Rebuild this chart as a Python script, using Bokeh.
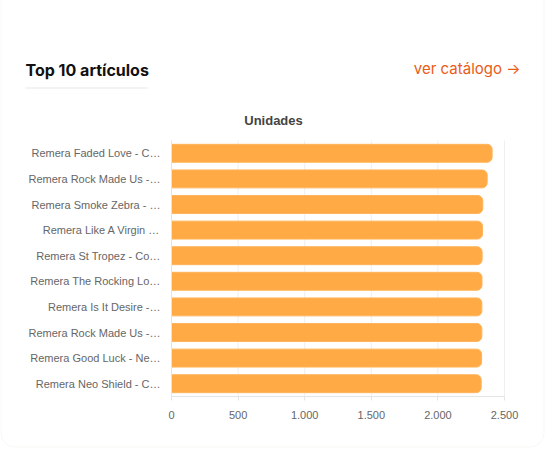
from bokeh.plotting import figure
from bokeh.models import Range1d, FixedTicker, Label, BoxAnnotation, LinearAxis
from bokeh.embed import file_html
from bokeh.resources import INLINE

# ---- data ----
labels = [
    "Remera Faded Love - C…",
    "Remera Rock Made Us -…",
    "Remera Smoke Zebra - …",
    "Remera Like A Virgin …",
    "Remera St Tropez - Co…",
    "Remera The Rocking Lo…",
    "Remera Is It Desire -…",
    "Remera Rock Made Us -…",
    "Remera Good Luck - Ne…",
    "Remera Neo Shield - C…",
]
unidades = [2407, 2370, 2337, 2335, 2332, 2331, 2330, 2330, 2328, 2325]
x_ticks = [0, 500, 1000, 1500, 2000, 2500]
x_tick_labels = ["0", "500", "1.000", "1.500", "2.000", "2.500"]
title_text = "Top 10 artículos"
link_text = "ver catálogo →"
axis_title = "Unidades"

# ---- layout (canvas px) ----
W, H = 546, 449
FL, FR, FT, FB = 171, 504, 140, 396  # chart area edges
XMIN, XMAX = 0, 2500
n = len(labels)
kx = (XMAX - XMIN) / (FR - FL)
ky = n / (FB - FT)
x_range = Range1d(XMIN - FL * kx, XMIN + (W - FL) * kx)
y_range = Range1d(n - 0.5 + (H - FB) * ky, -0.5 - FT * ky)

p = figure(width=W, height=H, output_backend="svg", toolbar_location=None,
           x_range=x_range, y_range=y_range, x_axis_type=None, y_axis_type=None,
           min_border=0, min_border_left=0, min_border_right=0,
           min_border_top=0, min_border_bottom=0)
p.background_fill_color = "white"
p.border_fill_color = "white"
p.outline_line_color = None
p.grid.visible = False

ys = list(range(n))

# grid lines at tick positions, spanning the category area
p.segment(x0=x_ticks, x1=x_ticks, y0=-0.5, y1=n - 0.5, line_color="#efefef", line_width=1)

p.hbar(y=ys, left=0, right=unidades, height=0.7, fill_color="#ffaa44",
       line_color="#ffb45a", line_width=1, border_radius=(0, 5, 5, 0))

# axes
xa = LinearAxis(fixed_location=n - 0.5, bounds=(XMIN, XMAX))
xa.ticker = FixedTicker(ticks=x_ticks)
xa.major_label_overrides = {t: l for t, l in zip(x_ticks, x_tick_labels)}
xa.axis_line_color = "#e4e4e4"
xa.major_tick_line_color = "#e4e4e4"
xa.major_tick_out = 4
xa.major_tick_in = 0
xa.minor_tick_line_color = None
xa.major_label_text_font = "Liberation Sans"
xa.major_label_text_font_size = "11px"
xa.major_label_text_color = "#666666"
xa.major_label_standoff = 10
p.add_layout(xa, "below")

ya = LinearAxis(fixed_location=0, bounds=(-0.5, n - 0.5))
ya.ticker = FixedTicker(ticks=ys)
ya.major_label_overrides = {i: l for i, l in enumerate(labels)}
ya.axis_line_color = "#e4e4e4"
ya.major_tick_line_color = None
ya.major_tick_out = 0
ya.major_tick_in = 0
ya.minor_tick_line_color = None
ya.major_label_text_font = "Liberation Sans"
ya.major_label_text_font_size = "11px"
ya.major_label_text_color = "#666666"
ya.major_label_standoff = 11
p.add_layout(ya, "left")


def sy(cy):
    return H - cy


# card outline
card = BoxAnnotation(left=0.5, right=543.5, top=sy(-20), bottom=sy(446.5),
                     left_units="screen", right_units="screen",
                     top_units="screen", bottom_units="screen",
                     fill_alpha=0, line_color="#e6e4df", line_width=1,
                     border_radius=14)
p.add_layout(card)

p.add_layout(BoxAnnotation(left=25, right=147, top=sy(87), bottom=sy(88),
                           left_units="screen", right_units="screen",
                           top_units="screen", bottom_units="screen",
                           fill_color="#e8e8e8", fill_alpha=1, line_color=None))

p.add_layout(Label(x=25, y=sy(69), x_units="screen", y_units="screen", text=title_text,
                   text_font="Inter", text_font_style="bold", text_font_size="16px",
                   text_color="#111111", text_baseline="alphabetic"))
p.add_layout(Label(x=520, y=sy(68), x_units="screen", y_units="screen", text=link_text,
                   text_font="Inter", text_font_size="15px", text_color="#ea5b16",
                   text_align="right", text_baseline="alphabetic"))
p.add_layout(Label(x=273, y=sy(120), x_units="screen", y_units="screen", text=axis_title,
                   text_font="Liberation Sans", text_font_style="bold",
                   text_font_size="13px", text_color="#444444",
                   text_align="center", text_baseline="alphabetic"))

open("out.html", "w").write(file_html(p, INLINE))
